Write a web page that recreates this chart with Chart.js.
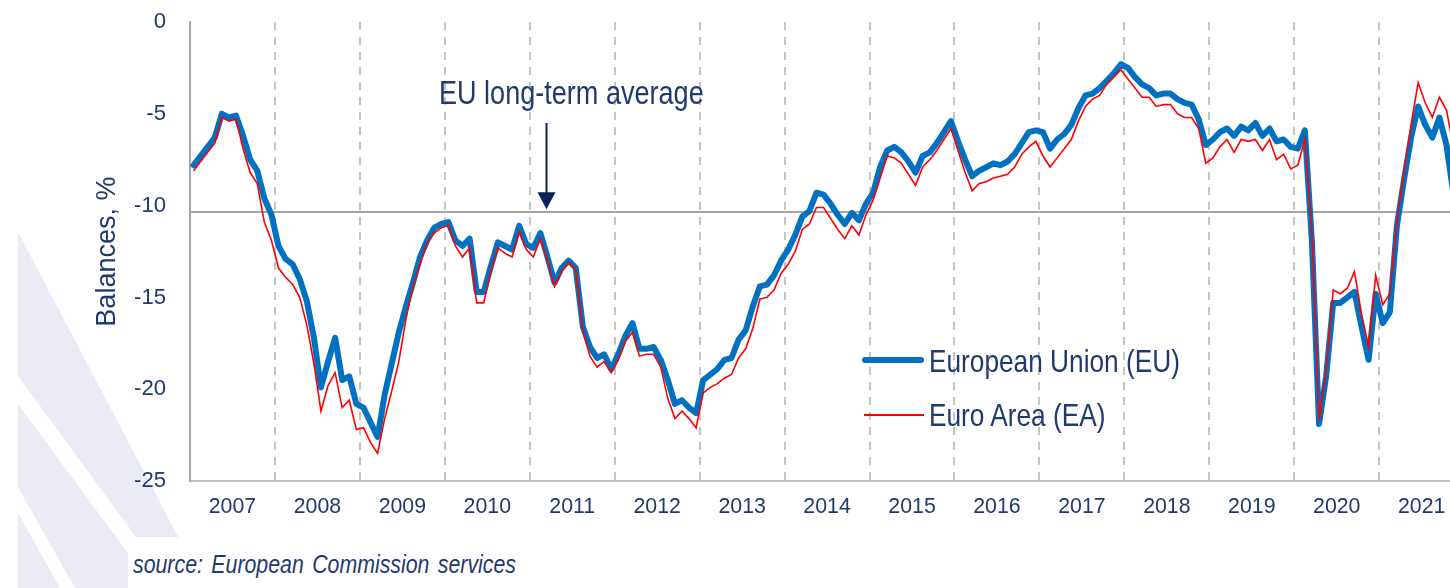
<!DOCTYPE html>
<html><head><meta charset="utf-8">
<script src="https://cdn.jsdelivr.net/npm/chart.js@4.4.0/dist/chart.umd.min.js"></script>
<style>
html,body{margin:0;padding:0;background:#fff;overflow:hidden;}
#wrap{position:relative;width:1450px;height:588px;}
#bg{position:absolute;left:0;top:0;}
#c{position:absolute;left:0;top:0;}
.t{position:absolute;white-space:nowrap;color:#1f3a6e;line-height:1;transform-origin:0 0;}
#srcbox{position:absolute;left:128px;top:537px;width:520px;height:51px;background:#fff;}
.sw{position:absolute;}
</style></head><body>
<div id="wrap">
<svg id="bg" width="1450" height="588">
  <polygon points="18,232 205,588 18,588" fill="#ebebf5"/>
  <polygon points="18,376 150,556 130,556 18,404" fill="#ffffff"/>
  <polygon points="18,487 75,588 60,588 18,513" fill="#ffffff"/>
</svg>
<canvas id="c" width="1450" height="588"></canvas>
<div id="srcbox"></div>
<div class="t" id="annot" style="left:439px;top:76px;">EU long-term average</div>
<div class="sw" style="left:862px;top:357px;width:62px;height:6px;background:#0070c0;border-radius:3px;"></div>
<div class="sw" style="left:864px;top:414px;width:60px;height:2px;background:#ff0000;"></div>
<div class="t" id="legEU" style="left:929px;top:345px;">European Union (EU)</div>
<div class="t" id="legEA" style="left:929px;top:399px;">Euro Area (EA)</div>
<div class="t" id="src" style="left:133px;top:551px;font-style:italic;word-spacing:3px;">source: European Commission services</div>
</div>
<script>
// ---------- data ----------
const yearLabels = ['2007','2008','2009','2010','2011','2012','2013','2014','2015','2016','2017','2018','2019','2020','2021'];
const yTickValues = [0, -5, -10, -15, -20, -25];
const longTermAverage = -10.35;

// monthly balances, Jan 2007 .. Nov 2021
const euValues = [
  -7.8,-7.3,-6.8,-6.3,-5.0,-5.2,-5.1,-6.2,-7.5,-8.1,-9.6,-10.5,
  -12.2,-12.9,-13.2,-14.0,-15.2,-17.2,-19.9,-18.5,-17.2,-19.5,-19.3,-20.8,
  -21.0,-21.8,-22.6,-20.3,-18.6,-16.9,-15.5,-14.2,-12.8,-11.9,-11.2,-11.0,
  -10.9,-11.9,-12.2,-11.8,-14.7,-14.7,-13.3,-12.0,-12.2,-12.4,-11.1,-12.1,
  -12.3,-11.5,-12.8,-14.2,-13.4,-13.0,-13.4,-16.6,-17.7,-18.3,-18.1,-18.9,
  -18.1,-17.1,-16.4,-17.8,-17.8,-17.7,-18.4,-19.5,-20.8,-20.6,-21.0,-21.3,
  -19.5,-19.2,-18.9,-18.4,-18.3,-17.3,-16.8,-15.5,-14.4,-14.3,-13.8,-13.0,
  -12.4,-11.6,-10.6,-10.3,-9.3,-9.4,-9.9,-10.5,-11.0,-10.4,-10.8,-9.9,
  -9.3,-7.9,-7.0,-6.8,-7.1,-7.6,-8.2,-7.3,-7.1,-6.6,-6.0,-5.4,
  -6.5,-7.5,-8.4,-8.1,-7.9,-7.7,-7.8,-7.6,-7.2,-6.6,-6.0,-5.9,
  -6.0,-6.9,-6.4,-6.1,-5.6,-4.7,-4.0,-3.9,-3.6,-3.2,-2.8,-2.3,
  -2.5,-3.0,-3.4,-3.6,-4.0,-3.9,-3.9,-4.2,-4.4,-4.5,-5.3,-6.7,
  -6.4,-6.0,-5.8,-6.2,-5.7,-5.9,-5.5,-6.2,-5.8,-6.5,-6.4,-6.8,
  -6.9,-5.9,-12.0,-21.9,-19.3,-15.3,-15.3,-15.0,-14.7,-16.6,-18.4,-14.8,
  -16.4,-15.8,-11.1,-8.6,-6.3,-4.6,-5.6,-6.3,-5.2,-6.7,-9.4
];
const eaValues = [
  -8.1,-7.6,-7.1,-6.6,-5.2,-5.4,-5.3,-6.9,-8.2,-8.8,-10.9,-11.9,
  -13.4,-13.9,-14.3,-15.0,-16.5,-18.6,-21.2,-19.8,-19.1,-21.0,-20.6,-22.2,
  -22.1,-22.9,-23.5,-21.6,-20.1,-18.5,-16.2,-14.4,-13.2,-12.0,-11.5,-11.2,
  -11.1,-12.2,-12.8,-12.3,-15.3,-15.3,-13.6,-12.3,-12.6,-12.8,-11.4,-12.4,
  -12.8,-11.8,-13.0,-14.4,-13.6,-13.1,-13.5,-16.8,-18.2,-18.8,-18.5,-19.1,
  -18.4,-17.4,-16.9,-18.2,-18.1,-18.1,-18.8,-20.5,-21.6,-21.2,-21.6,-22.1,
  -20.2,-19.9,-19.7,-19.4,-19.2,-18.3,-17.8,-16.7,-15.1,-15.0,-14.6,-13.7,
  -13.2,-12.5,-11.3,-11.0,-10.1,-10.1,-10.7,-11.3,-11.8,-11.1,-11.6,-10.5,
  -9.7,-8.5,-7.3,-7.4,-7.7,-8.3,-8.9,-7.9,-7.5,-7.0,-6.4,-5.8,
  -7.0,-8.2,-9.2,-8.8,-8.7,-8.5,-8.4,-8.3,-7.9,-7.2,-6.8,-6.5,
  -7.3,-7.9,-7.4,-6.9,-6.4,-5.4,-4.6,-4.2,-4.0,-3.4,-3.0,-2.6,
  -3.1,-3.6,-4.1,-4.1,-4.6,-4.5,-4.5,-5.0,-5.2,-5.2,-5.8,-7.7,
  -7.4,-6.8,-6.4,-7.1,-6.4,-6.5,-6.4,-7.0,-6.4,-7.5,-7.2,-8.0,
  -7.8,-6.4,-11.5,-21.7,-19.0,-14.6,-14.8,-14.5,-13.6,-15.9,-17.7,-13.8,
  -15.4,-14.8,-10.8,-8.2,-5.6,-3.3,-4.4,-5.2,-4.1,-4.8,-6.8
];
// visible window in month index (0 = Jan 2007)
const xMin = -0.5, xMax = 177.5;
// annotation arrow: month index and from/to values
const arrowSpec = { index: 49.8, from: -5.5, to: -10.2 };

// ---------- fonts ----------
function fontAvailable(name){
  const c = document.createElement('canvas').getContext('2d');
  const txt = 'mmmmmmmmmmlli 2007 European Union';
  let diff = false;
  for (const fb of ['monospace','serif']) {
    c.font = '40px ' + fb; const a = c.measureText(txt).width;
    c.font = '40px "' + name + '", ' + fb; const b = c.measureText(txt).width;
    if (Math.abs(a-b) > 0.5) diff = true;
  }
  return diff;
}
let FAM, K;
if (fontAvailable('Liberation Sans Narrow')) { FAM = '"Liberation Sans Narrow"'; K = 1; }
else if (fontAvailable('Arial Narrow')) { FAM = '"Arial Narrow"'; K = 1; }
else { FAM = '"Liberation Sans", Arial, sans-serif'; K = 0.82; }

const TXT = '#1f3a6e';
function styleText(id, size){
  const el = document.getElementById(id);
  el.style.fontFamily = FAM; el.style.fontSize = size + 'px';
  if (K < 1) el.style.transform = 'scaleX(' + K + ')';
}
styleText('annot', 33); styleText('legEU', 32); styleText('legEA', 32); styleText('src', 26);

// ---------- chart ----------
const toPts = arr => arr.map((v, i) => ({ x: i, y: v }));
const xTickVals = [];
for (let v = xMin; v <= xMax; v += 6) xTickVals.push(v);

const arrowPlugin = {
  id: 'arrow',
  afterDatasetsDraw(chart){
    const { ctx, scales: { x, y } } = chart;
    const px = Math.round(x.getPixelForValue(arrowSpec.index)) + 0.5;
    const y0 = y.getPixelForValue(arrowSpec.from), y1 = y.getPixelForValue(arrowSpec.to);
    ctx.save();
    ctx.strokeStyle = ctx.fillStyle = '#0d2157';
    ctx.lineWidth = 2;
    ctx.beginPath(); ctx.moveTo(px, y0); ctx.lineTo(px, y1 - 15); ctx.stroke();
    ctx.beginPath(); ctx.moveTo(px - 9, y1 - 17); ctx.lineTo(px + 9, y1 - 17); ctx.lineTo(px, y1); ctx.closePath(); ctx.fill();
    ctx.restore();
  }
};

new Chart(document.getElementById('c').getContext('2d'), {
  type: 'line',
  data: {
    datasets: [
      { label: 'Euro Area (EA)', data: toPts(eaValues), borderColor: '#ff0000', borderWidth: 1.6,
        pointRadius: 0, tension: 0, order: 0 },
      { label: 'European Union (EU)', data: toPts(euValues), borderColor: '#0070c0', borderWidth: 6,
        pointRadius: 0, tension: 0, order: 1, borderJoinStyle: 'round', borderCapStyle: 'round' },
      { label: 'EU long-term average', data: [{ x: xMin, y: longTermAverage }, { x: xMax, y: longTermAverage }],
        borderColor: '#a6a6a6', borderWidth: 2, pointRadius: 0, order: 2 }
    ]
  },
  options: {
    responsive: false, animation: false, devicePixelRatio: 1,
    layout: { padding: { top: 22, left: 0, right: 0, bottom: 0 } },
    plugins: { legend: { display: false }, tooltip: { enabled: false } },
    scales: {
      x: {
        type: 'linear', min: xMin, max: xMax,
        afterBuildTicks: ax => { ax.ticks = xTickVals.map(v => ({ value: v })); },
        afterFit: ax => { ax.height = 107; ax.paddingLeft = 0; ax.paddingRight = 0; },
        grid: {
          drawTicks: false, lineWidth: 2,
          color: c => { const v = c.tick.value + 0.5; return (v > 0 && v % 12 === 0) ? '#c4c4c4' : 'rgba(0,0,0,0)'; }
        },
        border: { display: true, color: '#c4c4c4', width: 2, dash: [8, 7] },
        ticks: {
          autoSkip: false, maxRotation: 0, minRotation: 0, padding: 13, color: TXT,
          font: { family: FAM, size: 26 * K },
          callback: v => { const m = v + 0.5; return (m % 12 === 6) ? yearLabels[(m - 6) / 12] : ''; }
        }
      },
      y: {
        min: -25, max: 0,
        afterBuildTicks: ax => { ax.ticks = yTickValues.map(v => ({ value: v })); },
        afterFit: ax => { ax.width = 190; ax.paddingTop = 0; ax.paddingBottom = 0; },
        grid: { display: false, drawTicks: false },
        border: { display: true, color: '#a6a6a6', width: 2 },
        ticks: { padding: 24, color: TXT, font: { family: FAM, size: 27 * K } },
        title: { display: true, text: 'Balances, %', color: TXT,
                 font: { family: FAM, size: 33 * K }, padding: { top: 108 - 33 * K * 0.6, bottom: 0 } }
      }
    }
  },
  plugins: [arrowPlugin]
});
</script>
</body></html>
